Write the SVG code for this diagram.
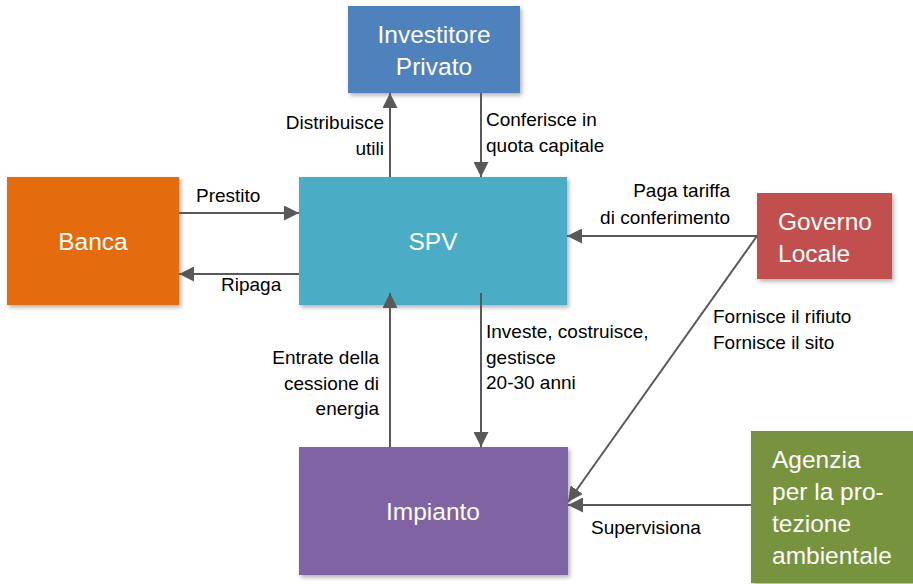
<svg xmlns="http://www.w3.org/2000/svg" width="913" height="584" viewBox="0 0 913 584">
<style>
.node{filter:url(#sh)}
.nt{font-family:"Liberation Sans",Arial,sans-serif;font-size:24.5px;fill:#ffffff}
.lb{font-family:"Liberation Sans",Arial,sans-serif;font-size:19px;fill:#000000}
.c{stroke:#595959;stroke-width:2;fill:none;marker-end:url(#ah)}
</style>
<defs>
<filter id="sh" x="-10%" y="-10%" width="130%" height="130%">
<feDropShadow dx="2" dy="2.5" stdDeviation="2" flood-color="#000" flood-opacity="0.3"/>
</filter>
<marker id="ah" markerUnits="userSpaceOnUse" markerWidth="15" markerHeight="15" refX="15" refY="7.5" orient="auto">
<path d="M0,0 L15,7.5 L0,15 z" fill="#595959"/>
</marker>
</defs>
<rect width="913" height="584" fill="#ffffff"/>
<g id="investitore">
<rect class="node" x="348" y="6" width="172" height="87" fill="#4F81BD"/>
<text class="nt" x="434" y="43" text-anchor="middle">Investitore</text>
<text class="nt" x="434" y="75" text-anchor="middle">Privato</text>
</g>
<g id="spv">
<rect class="node" x="299" y="177" width="268" height="128" fill="#4BACC6"/>
<text class="nt" x="433" y="250" text-anchor="middle">SPV</text>
</g>
<g id="banca">
<rect class="node" x="7" y="177" width="172" height="128" fill="#E46C0A"/>
<text class="nt" x="93" y="250" text-anchor="middle">Banca</text>
</g>
<g id="governo">
<rect class="node" x="757" y="193" width="135" height="86" fill="#C0504D"/>
<text class="nt" x="778" y="230">Governo</text>
<text class="nt" x="778" y="262">Locale</text>
</g>
<g id="impianto">
<rect class="node" x="299" y="447" width="269" height="128" fill="#8064A2"/>
<text class="nt" x="433" y="520" text-anchor="middle">Impianto</text>
</g>
<g id="agenzia">
<rect class="node" x="751" y="431" width="165" height="152" fill="#77933C"/>
<text class="nt" x="772" y="468">Agenzia</text>
<text class="nt" x="772" y="500">per la pro-</text>
<text class="nt" x="772" y="532">tezione</text>
<text class="nt" x="772" y="564">ambientale</text>
</g>
<g id="connectors">
<line class="c" x1="390" y1="177" x2="390" y2="93"/>
<line class="c" x1="481" y1="93" x2="481" y2="177"/>
<line class="c" x1="179" y1="213" x2="299" y2="213"/>
<line class="c" x1="299" y1="274" x2="179" y2="274"/>
<line class="c" x1="757" y1="236" x2="567" y2="236"/>
<line class="c" x1="757" y1="236" x2="568" y2="502"/>
<line class="c" x1="751" y1="505" x2="568" y2="505"/>
<line class="c" x1="390" y1="447" x2="390" y2="293"/>
<line class="c" x1="481" y1="293" x2="481" y2="447"/>
</g>
<g id="labels">
<text class="lb" x="384" y="129" text-anchor="end">Distribuisce</text>
<text class="lb" x="384" y="155" text-anchor="end">utili</text>
<text class="lb" x="486" y="126">Conferisce in</text>
<text class="lb" x="486" y="152">quota capitale</text>
<text class="lb" x="196" y="202">Prestito</text>
<text class="lb" x="221" y="291">Ripaga</text>
<text class="lb" x="730" y="197" text-anchor="end">Paga tariffa</text>
<text class="lb" x="730" y="224" text-anchor="end">di conferimento</text>
<text class="lb" x="713" y="323">Fornisce il rifiuto</text>
<text class="lb" x="713" y="349">Fornisce il sito</text>
<text class="lb" x="379" y="364" text-anchor="end">Entrate della</text>
<text class="lb" x="379" y="390" text-anchor="end">cessione di</text>
<text class="lb" x="379" y="415" text-anchor="end">energia</text>
<text class="lb" x="486" y="338">Investe, costruisce,</text>
<text class="lb" x="486" y="364">gestisce</text>
<text class="lb" x="486" y="389">20-30 anni</text>
<text class="lb" x="591" y="534">Supervisiona</text>
</g>
</svg>
